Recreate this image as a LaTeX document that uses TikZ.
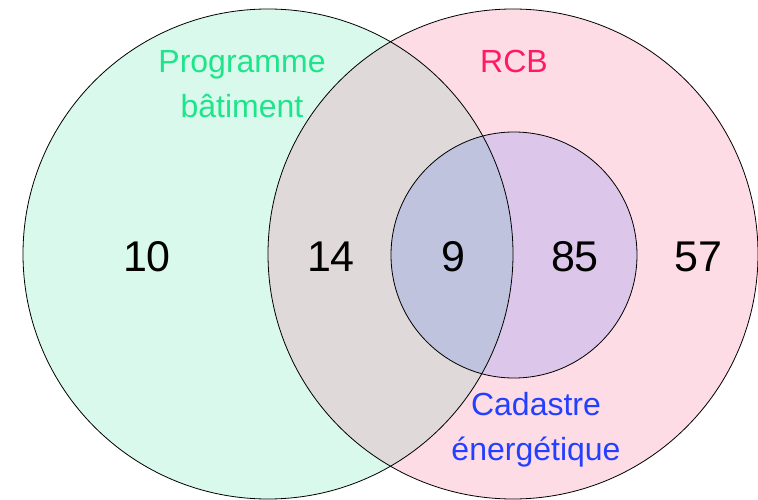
\documentclass[tikz,border=0pt]{standalone}
\usepackage{fontspec}
\setmainfont{Liberation Sans}
\usetikzlibrary{positioning}
\definecolor{progfill}{RGB}{217,249,236}
\definecolor{rcbfill}{RGB}{253,220,230}
\definecolor{bothfill}{RGB}{223,217,218}
\definecolor{cadfill}{RGB}{220,198,234}
\definecolor{allfill}{RGB}{192,195,222}
\definecolor{progcolor}{RGB}{30,228,138}
\definecolor{rcbcolor}{RGB}{255,26,98}
\definecolor{cadcolor}{RGB}{36,64,255}
\tikzset{
  setline/.style={draw=black, line width=0.8pt},
  setname/.style={inner sep=0pt, align=center, font=\fontsize{32}{45}\selectfont},
  count/.style={inner sep=0pt, anchor=base, font=\fontsize{43}{50}\selectfont}
}

\begin{document}
\begin{tikzpicture}[x=1pt,y=-1pt]
  \useasboundingbox (0,0) rectangle (758,500);

  % Centres
  \coordinate (prog) at (268,254);
  \coordinate (rcb) at (513,254);
  \coordinate (cad) at (514,255);

  % Regions
  \fill[progfill] (prog) circle (245pt);
  \fill[rcbfill] (rcb) circle (245pt);
  \begin{scope}
    \clip (prog) circle (245pt);
    \fill[bothfill] (rcb) circle (245pt);
  \end{scope}
  \fill[cadfill] (cad) circle (123pt);
  \begin{scope}
    \clip (prog) circle (245pt);
    \fill[allfill] (cad) circle (123pt);
  \end{scope}

  % Outlines
  \draw[setline] (prog) circle (245pt);
  \draw[setline] (rcb) circle (245pt);
  \draw[setline] (cad) circle (123pt);

  % Set names
  \node[setname, text=progcolor, anchor=north] (progname) at (242,50) {Programme\\bâtiment};
  \node[setname, text=rcbcolor, anchor=base] (rcbname) at (514,73) {RCB};
  \node[setname, text=cadcolor, anchor=north] (cadname) at (536,392) {Cadastre\\énergétique};

  % Counts
  \node[count] (progonly) at (147,271) {10};
  \node[count] (progrcb) at (331,271) {14};
  \node[count] (allthree) at (453,271) {9};
  \node[count] (rcbcad) at (575,271) {85};
  \node[count] (rcbonly) at (698,271) {57};
\end{tikzpicture}
\end{document}
